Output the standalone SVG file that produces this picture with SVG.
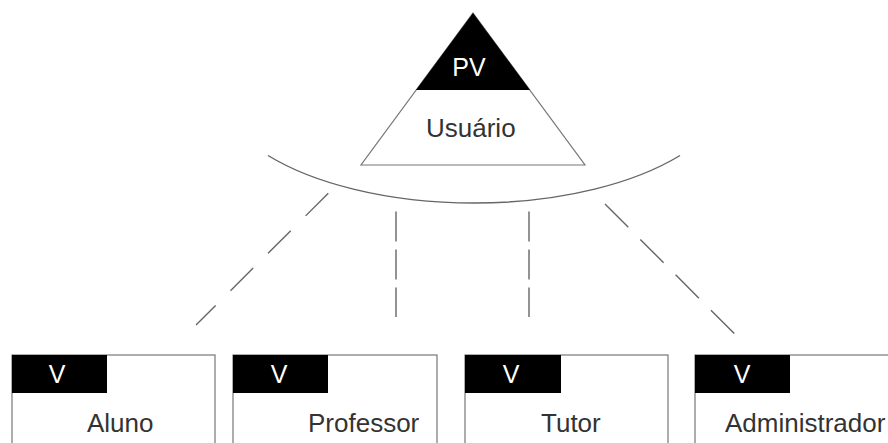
<svg xmlns="http://www.w3.org/2000/svg" width="888" height="443" viewBox="0 0 888 443">
<style>
.t{font-family:"Liberation Sans",Arial,sans-serif;font-size:26px;fill:#333}
.w{font-family:"Liberation Sans",Arial,sans-serif;font-size:25px;fill:#fff;text-anchor:middle}
.box{fill:#fff;stroke:#777;stroke-width:1.2}
.hdr{fill:#000}
.ln{fill:none;stroke:#666;stroke-width:1.4}
</style>
<rect width="888" height="443" fill="#fff"/>
<g id="usuario">
<polygon points="473,13 585,165 361,165" fill="#fff" stroke="#777" stroke-width="1.2"/>
<polygon points="473,13 530,90 416,90" fill="#000"/>
<text class="w" x="469" y="76" font-size="26">PV</text>
<text class="t" x="426" y="137" font-size="27">Usuário</text>
</g>
<g id="connectors">
<path class="ln" d="M268 155.5 A260 122 0 0 0 680 155.5"/>
<line class="ln" x1="328.3" y1="193.3" x2="196" y2="325" stroke-dasharray="32 21"/>
<line class="ln" x1="396" y1="211.5" x2="396" y2="317" stroke-dasharray="30 8"/>
<line class="ln" x1="529" y1="211.5" x2="529" y2="317" stroke-dasharray="30 8"/>
<line class="ln" x1="605" y1="204" x2="736.7" y2="336" stroke-dasharray="33 17"/>
</g>
<g id="aluno">
<rect class="box" x="12" y="355" width="203" height="100"/>
<rect class="hdr" x="12" y="355" width="95" height="38"/>
<text class="w" x="57" y="383">V</text>
<text class="t" x="87" y="432">Aluno</text>
</g>
<g id="professor">
<rect class="box" x="233" y="355" width="204" height="100"/>
<rect class="hdr" x="233" y="355" width="95" height="38"/>
<text class="w" x="279" y="383">V</text>
<text class="t" x="308" y="432" font-size="27">Professor</text>
</g>
<g id="tutor">
<rect class="box" x="465" y="355" width="203" height="100"/>
<rect class="hdr" x="465" y="355" width="96" height="38"/>
<text class="w" x="511" y="383">V</text>
<text class="t" x="541" y="432">Tutor</text>
</g>
<g id="administrador">
<rect class="box" x="695" y="355" width="204" height="100"/>
<rect class="hdr" x="695" y="355" width="95" height="38"/>
<text class="w" x="742" y="383">V</text>
<text class="t" x="725" y="432">Administrador</text>
</g>
</svg>
